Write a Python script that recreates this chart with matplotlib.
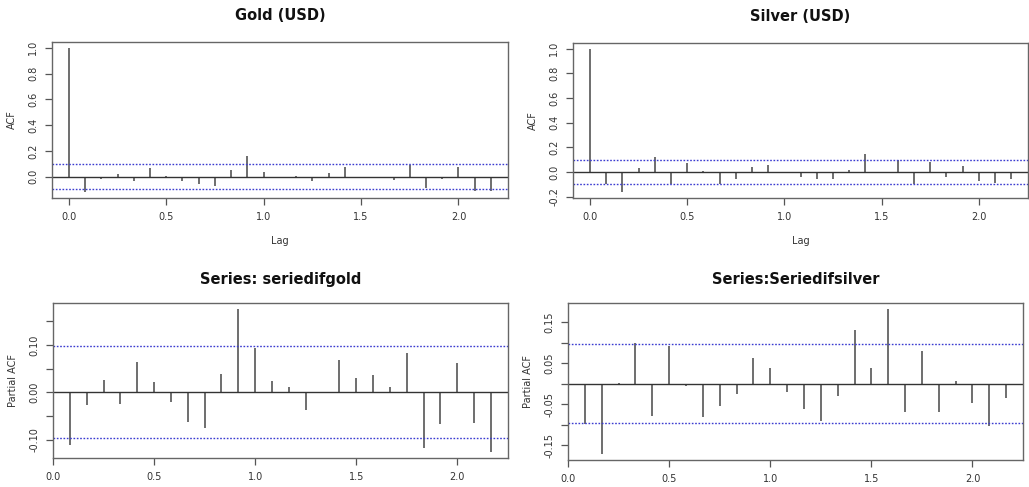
import numpy as np
import matplotlib.pyplot as plt

# lags in years (monthly data, 26 lags)
lags = np.arange(0, 27) / 12.0

gold_acf = [1.0, -0.12, -0.015, 0.023, -0.035, 0.067, 0.003, -0.035, -0.06, -0.075,
            0.055, 0.16, 0.04, -0.005, 0.003, -0.035, 0.033, 0.072, -0.01, -0.008,
            -0.025, 0.088, -0.088, -0.02, 0.077, -0.108, -0.108]
silver_acf = [1.0, -0.096, -0.163, 0.037, 0.123, -0.096, 0.072, 0.008, -0.096, -0.053,
              0.04, 0.059, 0.005, -0.037, -0.059, -0.056, 0.016, 0.147, -0.005, 0.096,
              -0.096, 0.08, -0.037, 0.053, -0.075, -0.088, -0.059]
gold_pacf = [-0.112, -0.027, 0.025, -0.024, 0.064, 0.022, -0.021, -0.062, -0.075, 0.039,
             0.176, 0.093, 0.024, 0.010, -0.038, -0.002, 0.067, 0.031, 0.037, 0.011,
             0.083, -0.117, -0.068, 0.062, -0.066, -0.127]
silver_pacf = [-0.098, -0.172, 0.002, 0.100, -0.079, 0.092, -0.006, -0.082, -0.054, -0.026,
               0.063, 0.039, -0.020, -0.062, -0.091, -0.031, 0.132, 0.039, 0.182, -0.069,
               0.079, -0.069, 0.006, -0.047, -0.103, -0.036]

gold_ci = 0.097
silver_ci = 0.097

TXT = "#333333"
LINE = "#555555"


def r_lim(lo, hi):
    pad = (hi - lo) * 0.04
    return lo - pad, hi + pad


def draw(ax, x, y, ci, title, ylabel, yticks, ylabels, xlabel=None, tpad=14):
    x = np.asarray(x)
    y = np.asarray(y)
    ax.vlines(x, 0, y, color=LINE, lw=1.2)
    ax.axhline(0, color="#333333", lw=1.0)
    for c in (ci, -ci):
        ax.axhline(c, color="#3b3bd0", lw=1.0, ls=(0, (1.2, 1.2)))
    ax.set_xlim(*r_lim(x.min(), x.max()))
    ax.set_ylim(*r_lim(min(y.min(), -ci), max(y.max(), ci)))
    ax.set_xticks([0.0, 0.5, 1.0, 1.5, 2.0])
    ax.set_xticklabels(["0.0", "0.5", "1.0", "1.5", "2.0"])
    ax.set_yticks(yticks)
    ax.set_yticklabels(ylabels, rotation=90, va="center")
    ax.tick_params(colors=LINE, labelcolor=TXT, labelsize=7, length=5, width=0.9, pad=5)
    for s in ax.spines.values():
        s.set_color("#666666")
        s.set_linewidth(1.0)
    ax.set_title(title, fontsize=10.5, fontweight="bold", color="#111111", pad=tpad)
    ax.set_ylabel(ylabel, fontsize=7, color=TXT, labelpad=8)
    if xlabel:
        ax.set_xlabel(xlabel, fontsize=7, color=TXT, labelpad=10)


fig = plt.figure(figsize=(10.29, 4.87), dpi=100)
ax1 = fig.add_axes([0.0505, 0.5934, 0.443, 0.3203])
ax2 = fig.add_axes([0.5569, 0.5934, 0.4422, 0.3183])
ax3 = fig.add_axes([0.0515, 0.0595, 0.442, 0.318])
ax4 = fig.add_axes([0.552, 0.0554, 0.4422, 0.322])

acf_ticks = [0.0, 0.2, 0.4, 0.6, 0.8, 1.0]
draw(ax1, lags, gold_acf, gold_ci, "Gold (USD)", "ACF",
     acf_ticks, [f"{t:.1f}" for t in acf_ticks], xlabel="Lag", tpad=16)
silver_ticks = [-0.2, 0.0, 0.2, 0.4, 0.6, 0.8, 1.0]
draw(ax2, lags, silver_acf, silver_ci, "Silver (USD)", "ACF",
     silver_ticks, [f"{t:.1f}" for t in silver_ticks], xlabel="Lag", tpad=16)
draw(ax3, lags[1:], gold_pacf, gold_ci, "Series: seriedifgold", "Partial ACF",
     [-0.10, -0.05, 0.0, 0.05, 0.10, 0.15], ["-0.10", "", "0.00", "", "0.10", ""])
draw(ax4, lags[1:], silver_pacf, silver_ci, "Series:Seriedifsilver", "Partial ACF",
     [-0.15, -0.10, -0.05, 0.0, 0.05, 0.10, 0.15],
     ["-0.15", "", "-0.05", "", "0.05", "", "0.15"])

fig.savefig("out.png", dpi=100)
